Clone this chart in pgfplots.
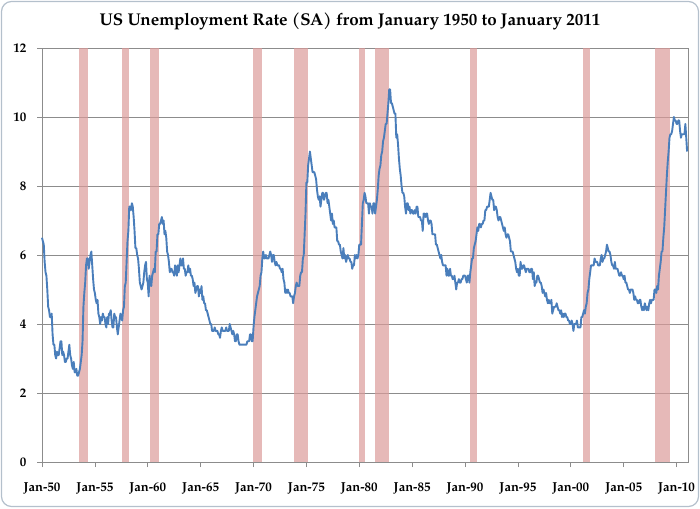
\documentclass[border=0pt]{standalone}
\usepackage{pgfplots}
\usepackage{pgfplotstable}
\pgfplotsset{compat=1.18}
\usepackage{fontspec}
\setmainfont{TeX Gyre Pagella}
\definecolor{unblue}{HTML}{4A7EBB}
\definecolor{recess}{HTML}{DB9B9A}
\definecolor{gridgray}{HTML}{8C8C8C}
\definecolor{framecol}{HTML}{B4C0CC}
\pgfplotstableread[header=false, row sep=\\]{
6.5\\6.4\\6.3\\5.8\\5.5\\5.4\\5.0\\4.5\\4.4\\4.2\\4.2\\4.3\\
3.7\\3.4\\3.4\\3.1\\3.0\\3.2\\3.1\\3.1\\3.3\\3.5\\3.5\\3.1\\
3.2\\3.1\\2.9\\2.9\\3.0\\3.0\\3.2\\3.4\\3.1\\3.0\\2.8\\2.7\\
2.9\\2.6\\2.6\\2.7\\2.5\\2.5\\2.6\\2.7\\2.9\\3.1\\3.5\\4.5\\
4.9\\5.2\\5.7\\5.9\\5.9\\5.6\\5.8\\6.0\\6.1\\5.7\\5.3\\5.0\\
4.9\\4.7\\4.6\\4.7\\4.3\\4.2\\4.0\\4.2\\4.1\\4.3\\4.2\\4.2\\
4.0\\3.9\\4.2\\4.0\\4.3\\4.3\\4.4\\4.1\\3.9\\3.9\\4.3\\4.2\\
4.2\\3.9\\3.7\\3.9\\4.1\\4.3\\4.2\\4.1\\4.4\\4.5\\5.1\\5.2\\
5.8\\6.4\\6.7\\7.4\\7.4\\7.3\\7.5\\7.4\\7.1\\6.7\\6.2\\6.2\\
6.0\\5.9\\5.6\\5.2\\5.1\\5.0\\5.1\\5.2\\5.5\\5.7\\5.8\\5.3\\
5.2\\4.8\\5.4\\5.2\\5.1\\5.4\\5.5\\5.6\\5.5\\6.1\\6.1\\6.6\\
6.6\\6.9\\6.9\\7.0\\7.1\\6.9\\7.0\\6.6\\6.7\\6.5\\6.1\\6.0\\
5.8\\5.5\\5.6\\5.6\\5.5\\5.5\\5.4\\5.7\\5.6\\5.4\\5.7\\5.5\\
5.7\\5.9\\5.7\\5.7\\5.9\\5.6\\5.6\\5.4\\5.5\\5.5\\5.7\\5.5\\
5.6\\5.4\\5.4\\5.3\\5.1\\5.2\\4.9\\5.0\\5.1\\5.1\\4.8\\5.0\\
4.9\\5.1\\4.7\\4.8\\4.6\\4.6\\4.4\\4.4\\4.3\\4.2\\4.1\\4.0\\
4.0\\3.8\\3.8\\3.8\\3.9\\3.8\\3.8\\3.8\\3.7\\3.7\\3.6\\3.8\\
3.9\\3.8\\3.8\\3.8\\3.8\\3.9\\3.8\\3.8\\3.8\\4.0\\3.9\\3.8\\
3.7\\3.8\\3.7\\3.5\\3.5\\3.7\\3.7\\3.5\\3.4\\3.4\\3.4\\3.4\\
3.4\\3.4\\3.4\\3.4\\3.4\\3.5\\3.5\\3.5\\3.7\\3.7\\3.5\\3.5\\
3.9\\4.2\\4.4\\4.6\\4.8\\4.9\\5.0\\5.1\\5.4\\5.5\\5.9\\6.1\\
5.9\\5.9\\6.0\\5.9\\5.9\\5.9\\6.0\\6.1\\6.0\\5.8\\6.0\\6.0\\
5.8\\5.7\\5.8\\5.7\\5.7\\5.7\\5.6\\5.6\\5.5\\5.6\\5.3\\5.2\\
4.9\\5.0\\4.9\\5.0\\4.9\\4.9\\4.8\\4.8\\4.8\\4.6\\4.8\\4.9\\
5.1\\5.2\\5.1\\5.1\\5.1\\5.4\\5.5\\5.5\\5.9\\6.0\\6.6\\7.2\\
8.1\\8.1\\8.6\\8.8\\9.0\\8.8\\8.6\\8.4\\8.4\\8.4\\8.3\\8.2\\
7.9\\7.7\\7.6\\7.7\\7.4\\7.6\\7.8\\7.8\\7.6\\7.7\\7.8\\7.8\\
7.5\\7.6\\7.4\\7.2\\7.0\\7.2\\6.9\\7.0\\6.8\\6.8\\6.8\\6.4\\
6.4\\6.3\\6.3\\6.1\\6.0\\5.9\\6.2\\5.9\\6.0\\5.8\\5.9\\6.0\\
5.9\\5.9\\5.8\\5.8\\5.6\\5.7\\5.7\\6.0\\5.9\\6.0\\5.9\\6.0\\
6.3\\6.3\\6.3\\6.9\\7.5\\7.6\\7.8\\7.7\\7.5\\7.5\\7.5\\7.2\\
7.5\\7.4\\7.4\\7.2\\7.5\\7.5\\7.2\\7.4\\7.6\\7.9\\8.3\\8.5\\
8.6\\8.9\\9.0\\9.3\\9.4\\9.6\\9.8\\9.8\\10.1\\10.4\\10.8\\10.8\\
10.4\\10.4\\10.3\\10.2\\10.1\\10.1\\9.4\\9.5\\9.2\\8.8\\8.5\\8.3\\
8.0\\7.8\\7.8\\7.7\\7.4\\7.2\\7.5\\7.5\\7.3\\7.4\\7.2\\7.3\\
7.3\\7.2\\7.2\\7.3\\7.2\\7.4\\7.4\\7.1\\7.1\\7.1\\7.0\\7.0\\
6.7\\7.2\\7.2\\7.1\\7.2\\7.2\\7.0\\6.9\\7.0\\7.0\\6.9\\6.6\\
6.6\\6.6\\6.6\\6.3\\6.3\\6.2\\6.1\\6.0\\5.9\\6.0\\5.8\\5.7\\
5.7\\5.7\\5.7\\5.4\\5.6\\5.4\\5.4\\5.6\\5.4\\5.4\\5.3\\5.3\\
5.4\\5.2\\5.0\\5.2\\5.2\\5.3\\5.2\\5.2\\5.3\\5.3\\5.4\\5.4\\
5.4\\5.3\\5.2\\5.4\\5.4\\5.2\\5.5\\5.7\\5.9\\5.9\\6.2\\6.3\\
6.4\\6.6\\6.8\\6.7\\6.9\\6.9\\6.8\\6.9\\6.9\\7.0\\7.0\\7.3\\
7.3\\7.4\\7.4\\7.4\\7.6\\7.8\\7.7\\7.6\\7.6\\7.3\\7.4\\7.4\\
7.3\\7.1\\7.0\\7.1\\7.1\\7.0\\6.9\\6.8\\6.7\\6.8\\6.6\\6.5\\
6.6\\6.6\\6.5\\6.4\\6.1\\6.1\\6.1\\6.0\\5.9\\5.8\\5.6\\5.5\\
5.6\\5.4\\5.4\\5.8\\5.6\\5.6\\5.7\\5.7\\5.6\\5.5\\5.6\\5.6\\
5.6\\5.5\\5.5\\5.6\\5.6\\5.3\\5.5\\5.1\\5.2\\5.2\\5.4\\5.4\\
5.3\\5.2\\5.2\\5.1\\4.9\\5.0\\4.9\\4.8\\4.9\\4.7\\4.6\\4.7\\
4.6\\4.6\\4.7\\4.3\\4.4\\4.5\\4.5\\4.5\\4.6\\4.5\\4.4\\4.4\\
4.3\\4.4\\4.2\\4.3\\4.2\\4.3\\4.3\\4.2\\4.2\\4.1\\4.1\\4.0\\
4.0\\4.1\\4.0\\3.8\\4.0\\4.0\\4.0\\4.1\\3.9\\3.9\\3.9\\3.9\\
4.2\\4.2\\4.3\\4.4\\4.3\\4.5\\4.6\\4.9\\5.0\\5.3\\5.5\\5.7\\
5.7\\5.7\\5.7\\5.9\\5.8\\5.8\\5.8\\5.7\\5.7\\5.7\\5.9\\6.0\\
5.8\\5.9\\5.9\\6.0\\6.1\\6.3\\6.2\\6.1\\6.1\\6.0\\5.8\\5.7\\
5.7\\5.6\\5.8\\5.6\\5.6\\5.6\\5.5\\5.4\\5.4\\5.5\\5.4\\5.4\\
5.3\\5.4\\5.2\\5.2\\5.1\\5.0\\5.0\\4.9\\5.0\\5.0\\5.0\\4.9\\
4.7\\4.8\\4.7\\4.7\\4.6\\4.6\\4.7\\4.7\\4.5\\4.4\\4.5\\4.4\\
4.6\\4.5\\4.4\\4.5\\4.4\\4.6\\4.7\\4.6\\4.7\\4.7\\4.7\\5.0\\
5.0\\4.9\\5.1\\5.0\\5.4\\5.6\\5.8\\6.1\\6.1\\6.5\\6.8\\7.3\\
7.8\\8.3\\8.7\\9.0\\9.4\\9.5\\9.5\\9.6\\9.8\\10.0\\9.9\\9.9\\
9.8\\9.8\\9.9\\9.9\\9.6\\9.4\\9.5\\9.5\\9.5\\9.5\\9.8\\9.4\\
9.0\\
}\unemp
\begin{document}
\begin{tikzpicture}
\begin{axis}[
  scale only axis,
  width=646pt, height=414pt,
  xmin=0, xmax=733, ymin=0, ymax=12,
  ytick={0,2,4,6,8,10,12},
  xtick={0,60,120,180,240,300,360,420,480,540,600,660,720},
  xticklabels={Jan-50,Jan-55,Jan-60,Jan-65,Jan-70,Jan-75,Jan-80,Jan-85,Jan-90,Jan-95,Jan-00,Jan-05,Jan-10},
  ymajorgrids, grid style={gridgray, line width=0.7pt},
  axis line style={gridgray, line width=0.7pt},
  tick style={gridgray, line width=0.7pt},
  tick align=outside, major tick length=5pt,
  xtick pos=bottom, ytick pos=left,
  /pgf/number format/assume math mode=true,
  ticklabel style={font=\fontsize{13}{15}\selectfont\bfseries},
  yticklabel style={xshift=-7pt},
  xticklabel style={yshift=-12pt},
  clip=false,
]
\addplot[draw=none, fill=recess, fill opacity=0.7] coordinates {(42,12)(52,12)} \closedcycle;
\addplot[draw=none, fill=recess, fill opacity=0.7] coordinates {(91,12)(99,12)} \closedcycle;
\addplot[draw=none, fill=recess, fill opacity=0.7] coordinates {(123,12)(133,12)} \closedcycle;
\addplot[draw=none, fill=recess, fill opacity=0.7] coordinates {(239,12)(250,12)} \closedcycle;
\addplot[draw=none, fill=recess, fill opacity=0.7] coordinates {(286,12)(302,12)} \closedcycle;
\addplot[draw=none, fill=recess, fill opacity=0.7] coordinates {(360,12)(366,12)} \closedcycle;
\addplot[draw=none, fill=recess, fill opacity=0.7] coordinates {(378,12)(394,12)} \closedcycle;
\addplot[draw=none, fill=recess, fill opacity=0.7] coordinates {(486,12)(494,12)} \closedcycle;
\addplot[draw=none, fill=recess, fill opacity=0.7] coordinates {(614,12)(622,12)} \closedcycle;
\addplot[draw=none, fill=recess, fill opacity=0.7] coordinates {(695,12)(713,12)} \closedcycle;
\addplot[unblue, line width=1.9pt, line join=round] table[x expr=\coordindex, y index=0] {\unemp};
\end{axis}
\path[use as bounding box] (-42pt,-46pt) rectangle (658pt,462pt);
\draw[color=framecol, line width=1.2pt, rounded corners=10pt] (-40.5pt,-44.5pt) rectangle (656.5pt,460.5pt);
\node[font=\fontsize{17}{20}\selectfont\bfseries] at (308pt,441pt) {US Unemployment Rate (SA) from January 1950 to January 2011};
\end{tikzpicture}
\end{document}
